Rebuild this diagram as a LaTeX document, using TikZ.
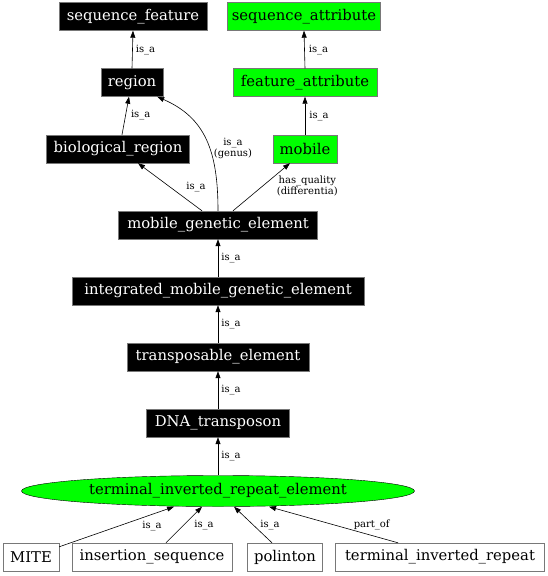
\documentclass[tikz,border=0pt]{standalone}
\usepackage{fontspec}
\setmainfont{DejaVu Serif}
\usetikzlibrary{arrows.meta,shapes.geometric}
\definecolor{termgreen}{RGB}{0,255,0}
\definecolor{boxline}{RGB}{120,120,120}
\tikzset{
	term/.style={draw=boxline, fill=black, text=white, inner sep=0pt, minimum height=28pt, font=\fontsize{14.8}{16}\selectfont},
	attr/.style={term, fill=termgreen, text=black},
	plain/.style={term, fill=white, text=black},
	edge/.style={-{Triangle[length=7pt,width=5pt]}, line width=0.6pt},
	lbl/.style={inner sep=1pt, align=center, font=\fontsize{10}{10.5}\selectfont}
}
\begin{document}
\begin{tikzpicture}[x=1pt,y=-1pt]
	\useasboundingbox (0,0) rectangle (548,576);
	% left branch
	\node[term, minimum width=148pt] (seqfeat) at (133,16.5) {sequence\_feature};
	\node[term, minimum width=62pt] (region) at (132,82.5) {region};
	\node[term, minimum width=143pt] (bioreg) at (118,149) {biological\_region};
	% right branch
	\node[attr, minimum width=153pt] (seqattr) at (304,16.5) {sequence\_attribute};
	\node[attr, minimum width=144pt] (featattr) at (305,82.5) {feature\_attribute};
	\node[attr, minimum width=64pt] (mobile) at (305,149) {mobile};
	% main column
	\node[term, minimum width=199pt] (mge) at (218,225) {mobile\_genetic\_element};
	\node[term, minimum width=292pt] (imge) at (218,291) {integrated\_mobile\_genetic\_element};
	\node[term, minimum width=182pt] (te) at (218,357) {transposable\_element};
	\node[term, minimum width=143pt] (dna) at (218,423) {DNA\_transposon};
	\node[ellipse, draw=black, fill=termgreen, inner sep=0pt, minimum width=393pt, minimum height=31pt,
		font=\fontsize{14.8}{16}\selectfont] (tire) at (218,491) {terminal\_inverted\_repeat\_element};
	% children
	\node[plain, minimum width=56pt] (mite) at (31,557) {MITE};
	\node[plain, minimum width=160pt] (inseq) at (152,557) {insertion\_sequence};
	\node[plain, minimum width=75pt] (polinton) at (285,557) {polinton};
	\node[plain, minimum width=209pt] (tir) at (440,557) {terminal\_inverted\_repeat};
	
	\draw[edge] (region.north) -- (seqfeat.south) node[lbl, midway, right=2pt]{is\_a};
	\draw[edge] ([xshift=4pt]bioreg.north) -- ([xshift=-3pt]region.south) node[lbl, pos=.53, right=4pt]{is\_a};
	\foreach \a/\b in {featattr/seqattr, mobile/featattr}
	\draw[edge] (\a.north) -- (\b.south) node[lbl, midway, right=3pt]{is\_a};
	
	\draw[edge] (mge.north) .. controls +(0,-60) and +(48,21) .. ([xshift=-6pt]region.south east)
		node[lbl, pos=.42, right=3pt]{is\_a\\(genus)};
	\draw[edge] ([xshift=-16pt]mge.north) -- ([xshift=20pt]bioreg.south) node[lbl, midway, right=15pt]{is\_a};
	\draw[edge] ([xshift=15pt]mge.north) -- ([xshift=-15pt]mobile.south)
		node[lbl, pos=.52, right=13pt]{has\_quality\\(differentia)};
	
	\foreach \a/\b in {imge/mge, te/imge, dna/te, tire/dna}
	\draw[edge] (\a.north) -- (\b.south) node[lbl, midway, right=2pt]{is\_a};
	
	\draw[edge] ([yshift=-4pt]mite.north east) -- ([xshift=-44pt]tire.south) node[lbl, pos=.53, right=21pt]{is\_a};
	\draw[edge] ([xshift=14pt]inseq.north) -- ([xshift=-16pt]tire.south) node[lbl, midway, right=9pt]{is\_a};
	\draw[edge] ([xshift=-13pt]polinton.north) -- ([xshift=16pt]tire.south) node[lbl, midway, right=6pt]{is\_a};
	\draw[edge] ([xshift=-42pt]tir.north) -- ([xshift=51pt]tire.south) node[lbl, midway, right=19pt]{part\_of};
\end{tikzpicture}
\end{document}
